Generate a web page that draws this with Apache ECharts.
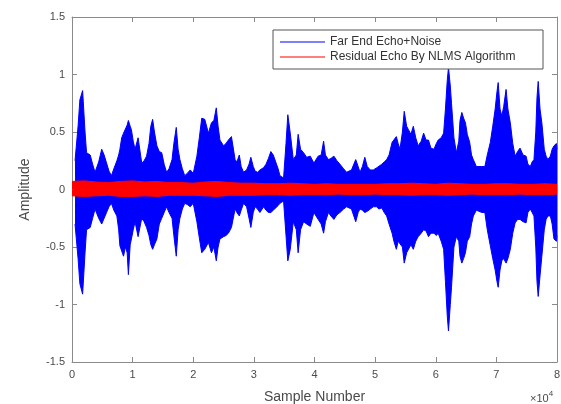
<!DOCTYPE html>
<html>
<head>
<meta charset="utf-8">
<script src="https://cdn.jsdelivr.net/npm/echarts@6/dist/echarts.min.js"></script>
<style>
html,body{margin:0;padding:0;background:#fff;}
#chart{width:561px;height:404px;}
</style>
</head>
<body>
<div id="chart"></div>
<script>
// Far end echo + noise: envelope (sample number, upper, lower)
const sampleX = [500,1000,1300,1750,2150,2400,3000,3400,3800,4400,4900,5300,5700,6100,6500,6900,7400,7700,7900,8200,8500,8800,9100,9300,9600,9800,10100,10400,10900,11500,11900,12300,12700,13000,13300,13600,14000,14400,14800,15200,15600,16000,16500,16800,17200,17500,17800,18200,18600,19000,19500,20000,20600,21000,21400,21900,22500,23000,23400,23800,24100,24400,25000,25400,25800,26300,26900,27200,27600,27900,28300,28800,29200,29500,29900,30200,30600,31000,31600,32000,32400,32800,33200,33500,34000,34300,34900,35300,35600,36000,36500,37000,37300,37700,38200,38700,39300,39900,40600,41100,41500,41800,42300,42700,43200,43700,44200,44800,45300,45700,46100,46800,47200,47500,47900,48300,48700,49200,49700,50300,50600,51100,51500,51900,52300,52800,53100,53500,53800,54100,54500,54800,55200,55500,55900,56300,56700,57100,57600,58000,58400,58800,59200,59700,60100,60400,60900,61300,61600,61900,62100,62400,62600,63000,63400,63800,64000,64300,64600,64900,65200,65600,65900,66200,66700,67000,67600,68100,68500,69000,69400,69800,70100,70300,70600,70900,71200,71600,71900,72300,72700,73100,73500,73900,74400,74900,75200,75600,75900,76200,76500,76700,76900,77200,77500,77900,78200,78500,78900,79200,79500,79900,80000];
const farUpper = [0.25,0.55,0.78,0.86,0.5,0.32,0.30,0.22,0.15,0.24,0.35,0.3,0.23,0.16,0.12,0.18,0.25,0.3,0.35,0.45,0.49,0.5,0.56,0.6,0.55,0.52,0.42,0.35,0.45,0.23,0.25,0.29,0.4,0.55,0.61,0.5,0.38,0.33,0.32,0.22,0.15,0.18,0.26,0.4,0.54,0.35,0.26,0.18,0.12,0.14,0.17,0.14,0.29,0.45,0.62,0.61,0.49,0.58,0.6,0.71,0.55,0.43,0.38,0.4,0.43,0.46,0.26,0.24,0.30,0.2,0.15,0.17,0.22,0.28,0.2,0.16,0.15,0.17,0.19,0.22,0.27,0.33,0.3,0.29,0.18,0.12,0.1,0.4,0.65,0.49,0.26,0.3,0.48,0.35,0.32,0.28,0.29,0.23,0.29,0.3,0.42,0.3,0.26,0.27,0.29,0.25,0.22,0.18,0.15,0.16,0.17,0.26,0.2,0.15,0.2,0.28,0.2,0.17,0.17,0.19,0.2,0.22,0.24,0.26,0.3,0.41,0.42,0.46,0.4,0.35,0.5,0.68,0.55,0.52,0.48,0.55,0.45,0.38,0.42,0.49,0.43,0.43,0.36,0.35,0.4,0.43,0.45,0.49,0.7,0.95,1.06,0.9,0.75,0.45,0.32,0.42,0.6,0.67,0.62,0.58,0.48,0.41,0.3,0.26,0.2,0.19,0.2,0.2,0.3,0.41,0.55,0.7,0.85,0.93,0.7,0.64,0.72,0.87,0.7,0.58,0.4,0.29,0.33,0.36,0.3,0.29,0.22,0.2,0.24,0.26,0.5,0.8,0.94,0.7,0.58,0.35,0.29,0.26,0.29,0.35,0.38,0.4,0.35];
const farLower = [-0.3,-0.6,-0.82,-0.91,-0.55,-0.35,-0.33,-0.25,-0.17,-0.25,-0.30,-0.25,-0.2,-0.15,-0.12,-0.18,-0.23,-0.35,-0.49,-0.5,-0.58,-0.5,-0.55,-0.74,-0.48,-0.43,-0.35,-0.28,-0.41,-0.25,-0.28,-0.33,-0.4,-0.48,-0.52,-0.48,-0.43,-0.3,-0.25,-0.2,-0.15,-0.2,-0.25,-0.4,-0.58,-0.35,-0.25,-0.17,-0.12,-0.13,-0.15,-0.12,-0.28,-0.42,-0.55,-0.52,-0.46,-0.55,-0.5,-0.62,-0.5,-0.43,-0.41,-0.4,-0.38,-0.33,-0.17,-0.2,-0.23,-0.18,-0.12,-0.15,-0.25,-0.33,-0.2,-0.15,-0.17,-0.2,-0.15,-0.18,-0.2,-0.2,-0.18,-0.17,-0.14,-0.12,-0.1,-0.4,-0.62,-0.52,-0.28,-0.35,-0.55,-0.35,-0.28,-0.3,-0.32,-0.2,-0.26,-0.3,-0.38,-0.28,-0.2,-0.23,-0.26,-0.22,-0.2,-0.17,-0.15,-0.16,-0.17,-0.28,-0.2,-0.17,-0.18,-0.2,-0.19,-0.17,-0.15,-0.15,-0.17,-0.16,-0.2,-0.23,-0.3,-0.38,-0.45,-0.52,-0.45,-0.46,-0.5,-0.64,-0.55,-0.55,-0.48,-0.52,-0.45,-0.41,-0.38,-0.35,-0.36,-0.41,-0.38,-0.38,-0.4,-0.38,-0.45,-0.52,-0.8,-1.1,-1.23,-1.0,-0.85,-0.5,-0.41,-0.45,-0.58,-0.64,-0.6,-0.55,-0.45,-0.41,-0.3,-0.23,-0.18,-0.17,-0.2,-0.2,-0.35,-0.49,-0.6,-0.7,-0.8,-0.85,-0.7,-0.62,-0.6,-0.64,-0.6,-0.52,-0.38,-0.29,-0.26,-0.26,-0.28,-0.29,-0.2,-0.17,-0.2,-0.23,-0.5,-0.8,-0.93,-0.75,-0.58,-0.35,-0.26,-0.23,-0.23,-0.3,-0.43,-0.45,-0.4];

// Residual echo by NLMS: envelope
const resX = [0,2000,4000,6000,8000,10000,12000,14000,16000,18000,20000,22000,24000,26000,28000,30000,32000,34000,36000,38000,40000,42000,44000,46000,48000,50000,52000,54000,56000,58000,60000,62000,64000,66000,68000,70000,72000,74000,76000,78000,80000];
const resUpper = [0.07,0.075,0.065,0.06,0.07,0.075,0.065,0.07,0.06,0.06,0.055,0.065,0.07,0.06,0.055,0.055,0.05,0.05,0.055,0.05,0.045,0.05,0.045,0.045,0.045,0.045,0.05,0.05,0.055,0.05,0.045,0.055,0.05,0.045,0.045,0.05,0.05,0.045,0.045,0.05,0.045];
const resLower = [-0.055,-0.06,-0.055,-0.05,-0.06,-0.06,-0.055,-0.06,-0.05,-0.05,-0.05,-0.055,-0.06,-0.05,-0.05,-0.05,-0.045,-0.045,-0.05,-0.045,-0.045,-0.045,-0.04,-0.045,-0.045,-0.04,-0.045,-0.045,-0.05,-0.045,-0.045,-0.05,-0.045,-0.04,-0.045,-0.045,-0.045,-0.04,-0.045,-0.045,-0.04];

const xTickLabels = ['0','1','2','3','4','5','6','7','8'];
const yTicks = [-1.5,-1,-0.5,0,0.5,1,1.5];
const seriesNames = ['Far End Echo+Noise','Residual Echo By NLMS Algorithm'];

const zip = (xs, ys) => xs.map((x, i) => [x, ys[i]]);

const chart = echarts.init(document.getElementById('chart'), null, {renderer: 'canvas'});
const axisColor = '#8a8a8a';
const textColor = '#4a4a4a';
const font = 'Liberation Sans, Arial, Helvetica, sans-serif';

function envSeries(name, color, data) {
  return {
    name: name, type: 'line', data: data, symbol: 'none', showSymbol: false,
    lineStyle: {color: color, width: 1},
    itemStyle: {color: color},
    areaStyle: {color: color, opacity: 1, origin: 0},
    animation: false, silent: true, sampling: null
  };
}

chart.setOption({
  animation: false,
  backgroundColor: '#ffffff',
  grid: {left: 72, top: 17, width: 485, height: 345, containLabel: false, outerBoundsMode: 'none'},
  legend: {
    data: seriesNames,
    orient: 'vertical', left: 273, top: 30,
    padding: [6, 6, 6, 7], itemGap: 3,
    itemWidth: 45, itemHeight: 1,
    icon: 'rect',
    backgroundColor: '#ffffff', borderColor: '#555555', borderWidth: 1,
    textStyle: {fontFamily: font, fontSize: 12, color: '#333333', lineHeight: 12, width: 207},
    selectedMode: false
  },
  xAxis: [{
    type: 'value', min: 0, max: 80000, interval: 10000, position: 'bottom',
    name: 'Sample Number', nameLocation: 'middle', nameGap: 28,
    nameTextStyle: {fontFamily: font, fontSize: 14, color: textColor},
    axisLine: {show: true, onZero: false, lineStyle: {color: axisColor, width: 1}},
    axisTick: {show: true, inside: true, length: 5, lineStyle: {color: axisColor}},
    axisLabel: {fontFamily: font, fontSize: 11, color: textColor, margin: 7,
      formatter: v => xTickLabels[Math.round(v / 10000)]},
    splitLine: {show: false}
  }, {
    type: 'value', min: 0, max: 80000, interval: 10000, position: 'top',
    axisLine: {show: true, onZero: false, lineStyle: {color: axisColor, width: 1}},
    axisTick: {show: true, inside: true, length: 5, lineStyle: {color: axisColor}},
    axisLabel: {show: false}, splitLine: {show: false}
  }],
  yAxis: [{
    type: 'value', min: yTicks[0], max: yTicks[yTicks.length - 1], interval: 0.5, position: 'left',
    name: 'Amplitude', nameLocation: 'middle', nameGap: 40,
    nameTextStyle: {fontFamily: font, fontSize: 14, color: textColor},
    axisLine: {show: true, onZero: false, lineStyle: {color: axisColor, width: 1}},
    axisTick: {show: true, inside: true, length: 5, lineStyle: {color: axisColor}},
    axisLabel: {fontFamily: font, fontSize: 11, color: textColor, margin: 7},
    splitLine: {show: false}
  }, {
    type: 'value', min: yTicks[0], max: yTicks[yTicks.length - 1], interval: 0.5, position: 'right',
    axisLine: {show: true, onZero: false, lineStyle: {color: axisColor, width: 1}},
    axisTick: {show: true, inside: true, length: 5, lineStyle: {color: axisColor}},
    axisLabel: {show: false}, splitLine: {show: false}
  }],
  series: [
    envSeries(seriesNames[0], '#0000ff', zip(sampleX, farUpper)),
    envSeries(seriesNames[0], '#0000ff', zip(sampleX, farLower)),
    envSeries(seriesNames[1], '#ff0000', zip(resX, resUpper)),
    envSeries(seriesNames[1], '#ff0000', zip(resX, resLower))
  ],
  graphic: [{
    type: 'text', left: 530, top: 390,
    style: {
      text: '{a|×10}{b|4}',
      rich: {
        a: {fontFamily: font, fontSize: 11, fill: textColor, verticalAlign: 'bottom', lineHeight: 14},
        b: {fontFamily: font, fontSize: 8, fill: textColor, verticalAlign: 'top', lineHeight: 14}
      }
    }
  }]
});
</script>
</body>
</html>
